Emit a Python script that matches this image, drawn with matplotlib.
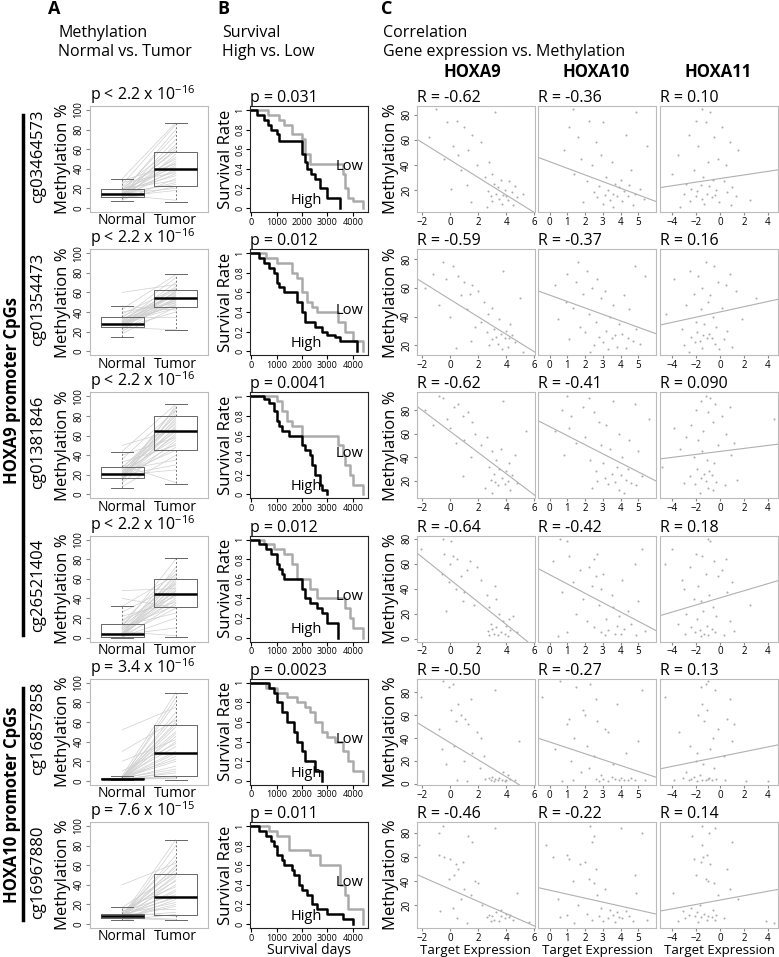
import numpy as np
import matplotlib
matplotlib.use('Agg')
import matplotlib.pyplot as plt

plt.rcParams['font.family'] = ['Open Sans', 'DejaVu Sans']
plt.rcParams['mathtext.fontset'] = 'custom'
plt.rcParams['mathtext.rm'] = 'Open Sans'
plt.rcParams['mathtext.default'] = 'regular'

# ---------------- data ----------------
probes = ['cg03464573', 'cg01354473', 'cg01381846', 'cg26521404', 'cg16857858', 'cg16967880']
genes = ['HOXA9', 'HOXA10', 'HOXA11']
p_box = ['p < 2.2 x 10$^{-16}$', 'p < 2.2 x 10$^{-16}$', 'p < 2.2 x 10$^{-16}$',
         'p < 2.2 x 10$^{-16}$', 'p = 3.4 x 10$^{-16}$', 'p = 7.6 x 10$^{-15}$']
p_surv = ['p = 0.031', 'p = 0.012', 'p = 0.0041', 'p = 0.012', 'p = 0.0023', 'p = 0.011']
r_vals = [['-0.62', '-0.36', '0.10'], ['-0.59', '-0.37', '0.16'], ['-0.62', '-0.41', '0.090'],
          ['-0.64', '-0.42', '0.18'], ['-0.50', '-0.27', '0.13'], ['-0.46', '-0.22', '0.14']]

# box stats: whislo, q1, med, q3, whishi
normal_box = [[7, 11, 14, 19, 30], [15, 25, 28, 35, 46], [7, 17, 21, 28, 43],
              [0, 1, 4, 14, 32], [0.5, 1.5, 2.2, 3, 5], [4, 6, 8, 10, 17]]
tumor_box = [[6, 22, 40, 57, 87], [22, 45, 54, 62, 79], [11, 45, 65, 80, 92],
             [1, 31, 45, 60, 81], [1, 5, 28, 57, 90], [4, 9, 28, 51, 86]]

# paired samples (normal -> tumor)
n1 = [8, 9, 10, 11, 11, 12, 12, 13, 13, 14, 14, 14, 15, 15, 16, 16, 17, 17, 18, 18, 19, 20, 21, 22, 24, 26, 28, 13, 15, 30]
t1 = [30, 55, 22, 40, 65, 18, 48, 35, 70, 26, 44, 60, 52, 38, 80, 24, 46, 58, 33, 75, 42, 28, 50, 62, 85, 36, 45, 8, 20, 87]
n2 = [18, 20, 22, 24, 25, 26, 27, 27, 28, 28, 29, 29, 30, 30, 31, 32, 33, 34, 35, 36, 38, 40, 43, 46, 26, 28, 31, 33, 24, 60]
t2 = [45, 55, 62, 40, 50, 58, 48, 66, 52, 60, 44, 54, 70, 47, 57, 63, 51, 75, 35, 56, 64, 49, 78, 42, 53, 61, 46, 59, 22, 68]
n3 = [8, 12, 14, 15, 16, 17, 17, 18, 18, 19, 19, 20, 20, 21, 21, 22, 22, 23, 24, 25, 26, 27, 28, 30, 33, 36, 40, 44, 50, 20]
t3 = [40, 55, 70, 85, 62, 48, 78, 90, 66, 52, 74, 30, 82, 60, 45, 88, 68, 57, 76, 35, 64, 80, 72, 12, 50, 86, 58, 92, 66, 25]
n4 = [0, 1, 1, 1, 2, 2, 2, 3, 3, 4, 4, 4, 5, 5, 6, 7, 8, 9, 10, 11, 12, 13, 14, 16, 18, 22, 26, 32, 40, 48]
t4 = [35, 50, 20, 60, 45, 30, 55, 65, 10, 40, 72, 48, 38, 58, 2, 52, 44, 62, 33, 80, 25, 47, 56, 68, 42, 36, 54, 64, 30, 50]
n5 = [1, 1, 1, 2, 2, 2, 2, 2, 2, 3, 3, 3, 3, 3, 3, 4, 4, 4, 5, 2, 2, 3, 1, 2, 3, 4, 10, 20, 30, 52]
t5 = [3, 10, 25, 40, 55, 70, 85, 5, 15, 30, 45, 60, 80, 2, 20, 35, 50, 65, 90, 8, 28, 12, 48, 4, 58, 22, 38, 42, 62, 75]
n6 = [4, 5, 5, 6, 6, 7, 7, 7, 8, 8, 8, 8, 9, 9, 9, 10, 10, 11, 12, 13, 14, 15, 17, 6, 7, 8, 9, 10, 12, 40]
t6 = [10, 25, 45, 60, 80, 5, 18, 35, 50, 70, 86, 12, 28, 40, 55, 22, 48, 65, 8, 30, 15, 38, 52, 4, 20, 33, 27, 58, 44, 62]
normal_vals = [n1, n2, n3, n4, n5, n6]
tumor_vals = [t1, t2, t3, t4, t5, t6]

# Kaplan-Meier curves (days, survival)
high_t = [[0, 250, 500, 650, 800, 1000, 1100, 2000, 2100, 2200, 2350, 2500, 2700, 3000, 3500],
          [0, 300, 500, 700, 900, 1000, 1100, 1300, 1800, 2000, 2100, 2500, 2800, 3000, 3300, 3500, 4150],
          [0, 500, 700, 900, 1000, 1100, 1200, 1500, 2000, 2100, 2300, 2400, 2500, 2700, 2800, 3000],
          [0, 300, 600, 800, 1000, 1100, 1200, 1300, 2000, 2100, 2300, 2600, 2800, 3000, 3400],
          [0, 700, 900, 1000, 1200, 1400, 1700, 1800, 2000, 2100, 2500, 2800],
          [0, 300, 600, 800, 900, 1000, 1200, 1300, 1600, 1700, 1900, 2000, 2200, 2400, 2600, 3000, 3600, 4000]]
high_s = [[1, 0.95, 0.9, 0.85, 0.8, 0.75, 0.68, 0.55, 0.47, 0.4, 0.35, 0.3, 0.2, 0.1, 0],
          [1, 0.95, 0.9, 0.85, 0.8, 0.7, 0.65, 0.6, 0.5, 0.4, 0.3, 0.25, 0.2, 0.17, 0.15, 0.1, 0],
          [1, 0.97, 0.93, 0.85, 0.75, 0.7, 0.65, 0.6, 0.5, 0.45, 0.4, 0.3, 0.2, 0.1, 0.05, 0],
          [1, 0.95, 0.9, 0.85, 0.75, 0.7, 0.65, 0.6, 0.5, 0.4, 0.35, 0.3, 0.25, 0.15, 0],
          [1, 0.95, 0.9, 0.8, 0.7, 0.6, 0.5, 0.4, 0.3, 0.2, 0.1, 0],
          [1, 0.95, 0.9, 0.85, 0.8, 0.7, 0.65, 0.6, 0.55, 0.5, 0.4, 0.35, 0.3, 0.2, 0.15, 0.1, 0.05, 0]]
low_t = [[0, 650, 1100, 1300, 1600, 2000, 2100, 2300, 3600, 3700, 3800, 4000, 4400],
         [0, 600, 1000, 1600, 1800, 2000, 2200, 2400, 2600, 3400, 3700, 4000, 4400],
         [0, 1000, 1200, 1400, 1600, 2000, 3400, 3600, 3700, 3900, 4000, 4400],
         [0, 500, 900, 1300, 1600, 1800, 2300, 2600, 3700, 3900, 4000, 4400],
         [0, 600, 1000, 1400, 1800, 2100, 2300, 2500, 2800, 3000, 3300, 3600, 3800, 4000, 4400],
         [0, 700, 1000, 1500, 2300, 2700, 3500, 3700, 3800, 4400]]
low_s = [[1, 0.95, 0.9, 0.85, 0.75, 0.7, 0.55, 0.45, 0.35, 0.2, 0.1, 0.07, 0],
         [1, 0.95, 0.9, 0.8, 0.75, 0.6, 0.5, 0.45, 0.4, 0.3, 0.2, 0.1, 0],
         [1, 0.95, 0.85, 0.75, 0.7, 0.6, 0.5, 0.4, 0.3, 0.2, 0.1, 0],
         [1, 0.95, 0.9, 0.85, 0.75, 0.6, 0.5, 0.4, 0.3, 0.2, 0.1, 0],
         [1, 0.95, 0.9, 0.85, 0.8, 0.75, 0.7, 0.6, 0.5, 0.45, 0.4, 0.3, 0.2, 0.1, 0],
         [1, 0.95, 0.9, 0.75, 0.7, 0.6, 0.4, 0.3, 0.15, 0]]

# correlation scatter: methylation (y) and expression of HOXA9/10/11 (x)
y1 = [85, 82, 75, 74, 70, 64, 62, 58, 55, 52, 48, 45, 42, 40, 36, 33, 30, 28, 27, 25, 24, 23, 22, 21, 20, 19, 18, 17, 17, 16, 15, 15, 14, 13, 12, 11, 10, 9, 8, 6]
x1_a9 = [-1.0, 3.2, 0.5, -0.2, 1.0, 1.6, -1.5, 2.2, 0.2, 1.3, 0.6, -0.4, 2.8, 1.9, 0.8, 3.0, 2.5, 3.6, 4.2, 3.1, 1.2, 4.6, 3.4, 0.1, 3.9, 2.7, 4.4, 3.3, 5.2, 3.8, 4.0, 2.9, 4.8, 3.5, 4.1, 3.0, 1.5, 3.7, 4.5, 2.6]
x1_a10 = [1.3, 4.9, 2.2, 3.0, 1.1, 4.3, 1.6, 2.6, 5.5, 0.8, 2.9, 1.8, 3.5, 2.4, 4.6, 1.4, 3.2, 4.0, 2.1, 3.7, 4.5, 2.8, 3.9, 5.1, 3.3, 4.2, 2.5, 3.6, 4.8, 3.1, 4.4, 3.8, 2.7, 5.3, 3.4, 4.1, 1.9, 3.0, 4.7, 3.6]
x1_a11 = [-1.5, -0.8, -2.0, -1.2, 0.2, -2.6, -0.5, 0.8, -1.8, 1.5, -3.5, -0.2, -1.0, 0.5, -2.2, -4.0, -1.4, -0.6, 0.3, -2.8, -1.6, -0.9, 1.0, -2.4, -0.3, -1.9, 0.6, -3.0, -1.1, -0.4, -2.0, 1.3, -0.7, -1.5, 2.5, -2.5, -0.1, -1.3, 0.9, -3.3]
y2 = [78, 75, 72, 70, 68, 66, 64, 62, 60, 58, 56, 55, 53, 50, 48, 46, 45, 42, 40, 38, 36, 35, 33, 31, 30, 29, 28, 27, 26, 25, 25, 24, 23, 22, 21, 20, 19, 18, 17, 15]
x2_a9 = [-0.5, 0.2, 3.8, -1.2, 0.6, -0.3, 1.0, 1.6, -1.8, 2.0, 1.4, 0.8, 5.0, 2.4, -0.8, 3.0, 1.2, 2.7, 0.0, 3.5, 2.2, 4.3, 1.8, 3.1, 4.0, 2.6, 3.6, 4.4, 3.3, 3.9, 4.2, 3.0, 1.5, 4.6, 3.4, 2.8, 4.1, 0.4, 3.7, 5.2]
x2_a10 = [1.6, 4.8, 2.1, 1.0, 5.4, 2.7, 1.5, 0.3, 2.4, 3.1, 1.9, 4.2, 2.9, 0.9, 3.6, 1.3, 4.5, 2.2, 3.4, 0.5, 2.6, 3.9, 1.7, 4.9, 3.2, 2.0, 4.1, 3.7, 2.8, 4.4, 3.5, 1.1, 4.7, 3.0, 5.1, 2.5, 3.8, 4.3, 3.3, 2.3]
x2_a11 = [-1.2, -0.5, -2.5, 0.8, -1.8, -3.8, -0.2, 0.5, -1.5, 1.3, -2.2, -0.8, 3.0, -1.0, -2.8, 0.2, -1.6, -4.5, -0.6, 1.8, -2.0, -1.3, -0.3, -3.2, 0.6, -1.9, -0.9, -1.4, -2.4, -0.7, -1.1, 0.3, -1.7, -2.1, -0.4, -3.0, 1.0, -1.5, -0.1, -2.6]
y3 = [92, 90, 88, 85, 83, 80, 78, 75, 72, 70, 67, 65, 62, 60, 57, 55, 52, 50, 47, 45, 42, 40, 38, 35, 32, 30, 28, 26, 25, 24, 22, 21, 20, 19, 18, 17, 16, 14, 12, 10]
x3_a9 = [-0.8, -0.5, 3.8, 0.6, 0.3, -1.8, 1.3, 0.9, -0.2, 1.6, -1.2, 0.0, 5.4, 1.8, 2.6, 1.0, 0.4, 2.2, 3.6, 3.0, 4.6, 1.5, 3.3, 4.2, 2.8, 3.5, 4.0, 3.1, 4.4, 0.9, 3.7, 2.9, 4.1, 3.2, 4.8, 3.9, 3.4, 2.5, 4.3, 3.0]
x3_a10 = [1.0, 2.2, 3.6, 4.8, 1.9, 0.7, 2.5, 1.2, 5.6, 2.8, 3.2, 1.1, 0.3, 3.9, 2.0, 4.5, 1.5, 2.9, 3.4, 5.0, 0.8, 4.1, 2.3, 3.0, 3.8, 4.4, 2.6, 3.5, 4.0, 5.2, 3.1, 4.3, 2.7, 3.7, 4.6, 3.3, 4.9, 2.4, 3.9, 4.2]
x3_a11 = [-1.2, -0.8, -1.6, -0.4, 0.8, -2.0, -1.0, 0.2, 4.5, -0.6, -2.4, -3.8, -1.4, 0.5, -2.8, -1.8, 1.2, -0.2, -3.3, -1.5, 0.9, -2.2, -1.1, -0.5, -4.8, -1.9, -0.9, -1.3, -0.7, -2.5, -1.6, 1.4, -1.2, -0.3, -3.0, -2.1, 0.4, -1.0, -0.6, -1.7]
y4 = [80, 78, 72, 68, 66, 64, 62, 60, 57, 55, 52, 50, 47, 45, 42, 40, 37, 35, 32, 30, 27, 25, 22, 20, 18, 16, 14, 12, 10, 9, 8, 7, 6, 5, 5, 4, 4, 3, 3, 2]
x4_a9 = [-0.5, 0.1, -2.1, -0.4, 0.2, 0.5, 1.4, 0.0, 1.9, 1.2, -0.6, 0.8, 2.2, -0.1, 3.2, 0.4, 1.0, 2.6, 3.3, 0.9, 1.7, 2.8, -0.3, 3.5, 4.5, 4.2, 3.8, 2.9, 4.0, 3.3, 3.0, 4.3, 2.7, 3.6, 4.8, 3.1, 3.9, 2.8, 3.4, 4.1]
x4_a10 = [0.6, 1.0, 5.2, 2.7, 1.1, 2.5, 0.2, 4.8, 2.2, 1.7, 3.0, 2.6, 4.1, 1.3, 2.4, 2.9, 0.7, 3.5, 1.9, 5.0, 2.8, 3.6, 4.4, 1.5, 3.9, 3.2, 2.1, 4.6, 3.8, 2.5, 4.2, 3.3, 5.4, 1.0, 2.9, 3.7, 4.0, 4.9, 3.1, 0.5]
x4_a11 = [-1.0, -0.8, -4.0, -2.0, -1.5, 0.5, -0.5, -4.6, -2.5, 0.2, -1.2, -0.2, -3.2, 1.0, -1.8, -3.0, 0.6, -0.9, -2.2, -1.6, 2.5, -0.6, -1.4, -2.8, -0.3, -1.9, 0.8, -3.5, -1.1, -2.4, -0.7, -1.7, 1.2, -2.1, -0.4, -1.3, -2.9, 0.3, -1.0, -1.6]
y5 = [90, 87, 85, 82, 76, 74, 70, 65, 60, 57, 55, 52, 48, 45, 40, 37, 33, 30, 27, 24, 20, 17, 14, 10, 8, 6, 5, 5, 4, 4, 4, 3, 3, 3, 3, 3, 3, 2, 2, 2]
x5_a9 = [-0.5, 0.2, -0.1, 3.2, -2.1, 1.5, 0.6, 0.1, 0.8, 1.1, 0.4, 1.3, -0.8, 1.9, 2.2, 4.9, 0.3, -0.6, 1.6, 2.4, 1.0, -0.3, 2.1, 3.8, 4.1, 3.0, 3.5, 2.8, 4.3, 3.2, 2.5, 3.7, 2.9, 4.0, 3.4, 0.5, 4.6, 3.1, 3.9, 1.2]
x5_a10 = [0.6, 2.3, 1.5, 5.2, -0.4, 2.6, 3.8, 1.9, 2.0, 1.1, 2.7, 1.0, 3.1, 3.3, 1.4, 5.0, 2.1, 0.3, 4.3, 2.5, 1.2, 3.6, 2.2, 1.8, 2.9, 3.5, 4.0, 4.6, 3.0, 3.7, 2.6, 4.2, 4.8, 1.3, 3.9, 4.4, 5.4, 2.8, 3.3, 0.7]
x5_a11 = [-1.0, -1.2, -1.6, -0.4, -4.6, 0.8, -1.5, -1.1, -1.8, 0.6, -1.3, 1.2, -0.2, -3.4, -0.6, 1.0, -2.5, -0.8, -1.9, 0.3, -2.0, -1.4, -0.5, -2.8, -1.7, -2.2, -0.9, -3.1, -1.0, -2.4, -0.3, -1.5, 0.4, -2.6, -1.2, -3.8, -0.7, 2.2, -1.9, 4.0]
y6 = [86, 84, 80, 77, 72, 70, 62, 60, 58, 56, 54, 50, 45, 42, 40, 38, 33, 30, 28, 25, 20, 18, 16, 15, 14, 13, 12, 12, 11, 11, 10, 10, 9, 9, 8, 8, 7, 7, 6, 5]
x6_a9 = [-0.5, 3.2, -0.8, 1.3, 1.6, -2.2, -0.8, -0.4, 0.0, 0.9, 0.4, 0.6, 0.3, -0.1, 1.8, 2.0, 1.0, 4.8, 1.5, 0.8, 2.3, 0.2, 3.6, -0.7, 3.3, 4.0, 2.8, 4.3, 3.6, 3.0, 4.2, 2.6, 3.9, 0.5, 3.1, 4.5, 2.9, 3.5, 5.6, 1.2]
x6_a10 = [2.3, 4.0, 5.2, 2.5, 2.4, -0.2, 1.0, 0.2, 1.1, 2.0, 1.7, 2.6, 4.8, 2.2, 1.3, 2.5, 3.1, 4.9, 2.7, 0.5, 1.6, 2.9, 3.4, 4.3, 3.8, 2.1, 1.0, 3.6, 4.5, 2.8, 3.9, 0.6, 4.1, 3.3, 5.5, 2.4, 4.7, 3.0, 3.7, 1.4]
x6_a11 = [-1.5, -0.4, -0.9, -2.3, 1.0, -1.5, -1.1, -1.4, -2.2, -1.6, -0.8, 0.6, -2.0, -1.2, -1.0, -0.5, 0.8, -3.9, -0.2, 1.5, -1.7, -2.4, -0.6, -3.1, -1.9, -1.3, -0.3, -2.6, -1.0, -2.1, -0.7, -1.6, 0.3, -2.9, -1.1, -0.4, -3.5, 3.8, -1.8, 4.5]
meth_y = [y1, y2, y3, y4, y5, y6]
expr_x = [[x1_a9, x1_a10, x1_a11], [x2_a9, x2_a10, x2_a11], [x3_a9, x3_a10, x3_a11],
          [x4_a9, x4_a10, x4_a11], [x5_a9, x5_a10, x5_a11], [x6_a9, x6_a10, x6_a11]]

# fitted lines (intercept, slope)
fits = [[(44, -7.0), (42.6, -5.3), (29.1, 1.44)],
        [(52, -6.1), (55, -4.5), (43.2, 1.83)],
        [(62, -9.0), (66, -7.7), (44.9, 1.27)],
        [(47.3, -9.0), (51.2, -7.46), (32.6, 2.85)],
        [(36, -7.5), (36.6, -5.16), (23.7, 2.14)],
        [(33.3, -5.1), (32.4, -3.3), (24.2, 1.83)]]
scatter_ylim = [(2.4, 87), (13, 87), (5, 95), (-2.4, 82.4), (-1, 92), (1, 89)]
scatter_yticks = [[20, 40, 60, 80], [20, 40, 60, 80], [20, 40, 60, 80],
                  [0, 20, 40, 60, 80], [0, 20, 40, 60, 80], [20, 40, 60, 80]]
gene_xlim = [(-2.35, 6.05), (-0.65, 6.0), (-5.0, 4.83)]
gene_xticks = [[-2, 0, 2, 4, 6], [0, 1, 2, 3, 4, 5], [-4, -2, 0, 2, 4]]

# ---------------- layout ----------------
W, H = 779, 957
fig = plt.figure(figsize=(W / 100, H / 100), dpi=100)


def add_ax(left, top, w, h):
    return fig.add_axes([left / W, 1 - (top + h) / H, w / W, h / H])


def ftext(x, y, s, **kw):
    fig.text(x / W, 1 - y / H, s, **kw)


row_top = [106 + i * 143.2 for i in range(6)]
ah = 106
light = '#bbbbbb'

# headers
ftext(48, 9, 'A', fontsize=13, fontweight='bold', va='center')
ftext(217, 9, 'B', fontsize=13, fontweight='bold', va='center')
ftext(381, 9, 'C', fontsize=13, fontweight='bold', va='center')
ftext(58, 33, 'Methylation', fontsize=11.5, va='center')
ftext(58, 52, 'Normal vs. Tumor', fontsize=11.5, va='center')
ftext(222, 33, 'Survival', fontsize=11.5, va='center')
ftext(222, 52, 'High vs. Low', fontsize=11.5, va='center')
ftext(383, 33, 'Correlation', fontsize=11.5, va='center')
ftext(383, 52, 'Gene expression vs. Methylation', fontsize=11.5, va='center')
for gx, g in zip([472, 596, 718], genes):
    ftext(gx, 72, g, fontsize=12, fontweight='bold', ha='center', va='center')

# group labels on the left
ftext(12, 390, 'HOXA9 promoter CpGs', fontsize=12, fontweight='bold', rotation=90, ha='center', va='center')
ftext(12, 805, 'HOXA10 promoter CpGs', fontsize=12, fontweight='bold', rotation=90, ha='center', va='center')
fig.add_artist(plt.Line2D([23 / W, 23 / W], [1 - 115 / H, 1 - 635 / H], color='black', lw=2.5))
fig.add_artist(plt.Line2D([23 / W, 23 / W], [1 - 688 / H, 1 - 920 / H], color='black', lw=2.5))

for i in range(6):
    top = row_top[i]
    last = (i == 5)
    ftext(38, top + 50, probes[i], fontsize=12, rotation=90, ha='center', va='center')

    # ---- A: boxplot with paired lines
    ax = add_ax(90, top, 118, ah)
    for nv, tv in zip(normal_vals[i], tumor_vals[i]):
        ax.plot([1, 2], [nv, tv], color='#cfcfcf', lw=0.5, zorder=1)
    stats = []
    for lab, b in zip(['Normal', 'Tumor'], [normal_box[i], tumor_box[i]]):
        stats.append(dict(label=lab, whislo=b[0], q1=b[1], med=b[2], q3=b[3], whishi=b[4]))
    ax.bxp(stats, positions=[1, 2], widths=0.8, capwidths=0.4, showfliers=False,
           boxprops=dict(color='#666666', lw=0.7),
           whiskerprops=dict(color='#777777', lw=0.7, linestyle=(0, (2, 2))),
           capprops=dict(color='#666666', lw=0.7),
           medianprops=dict(color='black', lw=1.8))
    ax.set_xlim(0.4, 2.6)
    ax.set_ylim(-4, 104)
    ax.set_yticks([0, 20, 40, 60, 80, 100])
    ax.set_xticks([1, 2], ['Normal', 'Tumor'])
    ax.tick_params(axis='x', length=0, labelsize=10, pad=1)
    ax.tick_params(axis='y', labelrotation=90, labelsize=7, length=3, pad=1, color='#888888')
    for lab in ax.get_yticklabels():
        lab.set_va('center')
    for sp in ax.spines.values():
        sp.set_color(light)
    ax.set_title(p_box[i], loc='left', fontsize=11.5, pad=1)
    ftext(63, top + ah / 2, 'Methylation %', fontsize=12, rotation=90, ha='center', va='center')

    # ---- B: survival
    ax = add_ax(250, top, 118, ah)
    ax.step(low_t[i], low_s[i], where='post', color='#aaaaaa', lw=1.8)
    ax.step(high_t[i], high_s[i], where='post', color='black', lw=1.8)
    ax.text(4400, 0.42, 'Low', fontsize=10.5, ha='right', va='center')
    ax.text(2150, 0.08, 'High', fontsize=10.5, ha='center', va='center')
    ax.set_xlim(-40, 4590)
    ax.set_ylim(-0.04, 1.04)
    ax.set_xticks([0, 1000, 2000, 3000, 4000])
    ax.set_yticks([0, 0.2, 0.4, 0.6, 0.8, 1.0], ['0', '0.2', '0.4', '0.6', '0.8', '1'])
    ax.tick_params(axis='x', labelsize=6.5, length=3, pad=1)
    ax.tick_params(axis='y', labelrotation=90, labelsize=6.5, length=3, pad=1)
    for lab in ax.get_yticklabels():
        lab.set_va('center')
    for sp in ax.spines.values():
        sp.set_color('#222222')
    ax.set_title(p_surv[i], loc='left', fontsize=11.5, pad=1)
    ftext(226, top + ah / 2, 'Survival Rate', fontsize=12, rotation=90, ha='center', va='center')
    if last:
        ax.set_xlabel('Survival days', fontsize=10, labelpad=0)

    # ---- C: correlation scatter
    for j, left in enumerate([417, 538, 660]):
        ax = add_ax(left, top, 118, ah)
        ax.scatter(expr_x[i][j], meth_y[i], s=2.2, c='#999999', alpha=0.8, linewidths=0)
        b0, m0 = fits[i][j]
        ax.axline((0, b0), slope=m0, color='#b0b0b0', lw=0.8)
        ax.set_xlim(*gene_xlim[j])
        ax.set_ylim(*scatter_ylim[i])
        ax.set_xticks(gene_xticks[j])
        ax.tick_params(axis='x', labelsize=7, length=2.5, pad=1, color='#888888')
        if j == 0:
            ax.set_yticks(scatter_yticks[i])
            ax.tick_params(axis='y', labelrotation=90, labelsize=7, length=2.5, pad=1, color='#888888')
            for lab in ax.get_yticklabels():
                lab.set_va('center')
        else:
            ax.set_yticks([])
        for sp in ax.spines.values():
            sp.set_color(light)
        ax.set_title('R = ' + r_vals[i][j], loc='left', fontsize=11.5, pad=1)
        if last:
            ax.set_xlabel('Target Expression', fontsize=9.5, labelpad=0)
    ftext(391, top + ah / 2, 'Methylation %', fontsize=12, rotation=90, ha='center', va='center')

fig.savefig('out.png', dpi=100)
